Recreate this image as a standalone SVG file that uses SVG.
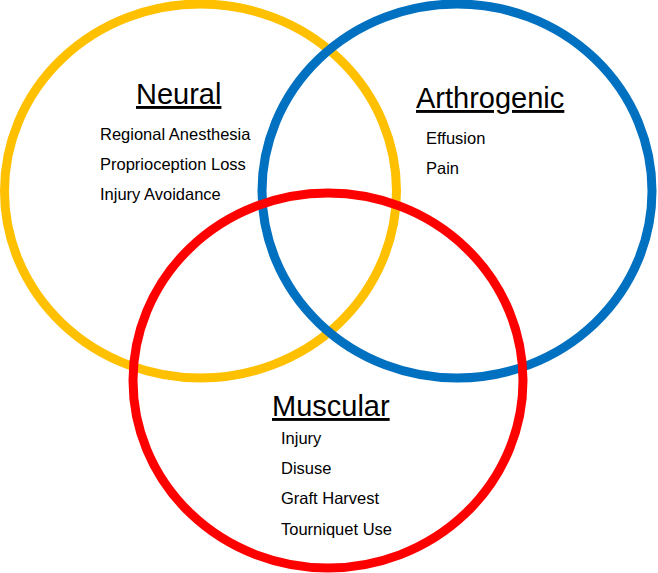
<svg xmlns="http://www.w3.org/2000/svg" width="658" height="573" viewBox="0 0 658 573">
<style>
.c{fill:none;stroke-width:9}
.t{font-family:"Liberation Sans",Arial,sans-serif;font-size:29px;fill:#000;text-decoration:underline}
.i{font-family:"Liberation Sans",Arial,sans-serif;font-size:16.5px;fill:#000}
</style>
<rect width="658" height="573" fill="#fff"/>
<g id="neural">
<ellipse class="c" cx="200.5" cy="191" rx="196" ry="187" stroke="#FFC000"/>
</g>
<g id="arthrogenic">
<ellipse class="c" cx="457" cy="191" rx="195" ry="187" stroke="#0070C0"/>
</g>
<g id="muscular">
<ellipse class="c" cx="328" cy="380.5" rx="195" ry="187.5" stroke="#FF0000"/>
</g>
<g id="neural-text">
<text class="t" x="136" y="104">Neural</text>
<text class="i" x="100" y="140">Regional Anesthesia</text>
<text class="i" x="100" y="170">Proprioception Loss</text>
<text class="i" x="100" y="200">Injury Avoidance</text>
</g>
<g id="arthrogenic-text">
<text class="t" x="416" y="108">Arthrogenic</text>
<text class="i" x="426" y="144">Effusion</text>
<text class="i" x="426" y="174">Pain</text>
</g>
<g id="muscular-text">
<text class="t" x="272" y="416">Muscular</text>
<text class="i" x="281" y="444">Injury</text>
<text class="i" x="281" y="474">Disuse</text>
<text class="i" x="281" y="504">Graft Harvest</text>
<text class="i" x="281" y="535">Tourniquet Use</text>
</g>
<g id="connectors"/>
</svg>
